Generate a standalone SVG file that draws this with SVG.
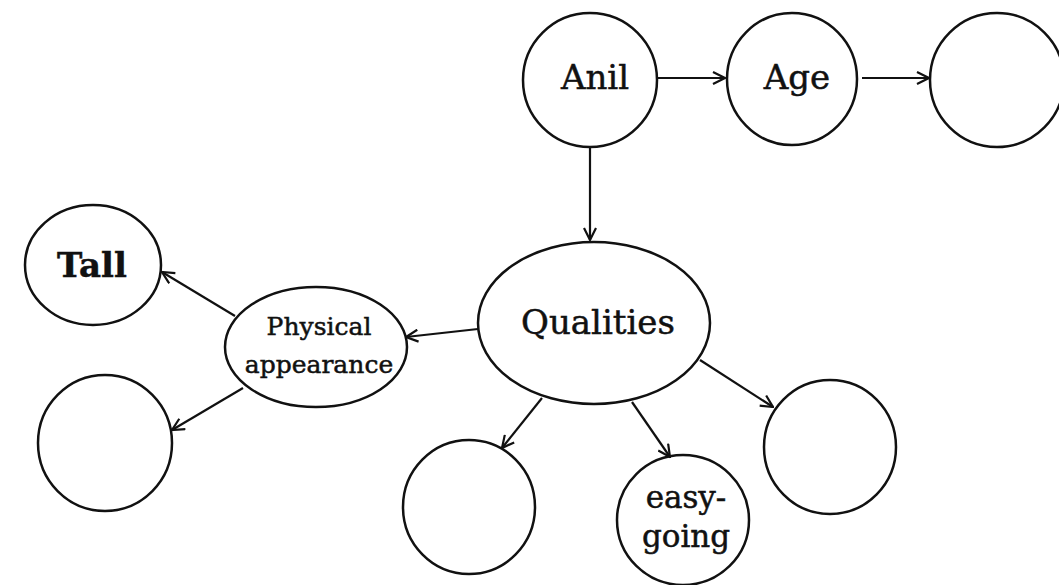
<svg xmlns="http://www.w3.org/2000/svg" width="1059" height="585" viewBox="0 0 1059 585">
<style>
.n{fill:none;stroke:#111;stroke-width:2.5}
.t{font-family:"DejaVu Serif","Liberation Serif",serif;fill:#111;stroke:#111;stroke-width:0.5;text-anchor:middle}
.c{stroke:#111;stroke-width:2.2;fill:none}
</style>
<defs>
<marker id="ah" viewBox="0 0 14 14" refX="13" refY="7" markerWidth="14" markerHeight="14" markerUnits="userSpaceOnUse" orient="auto">
<path d="M1,1 L13,7 L1,13" fill="none" stroke="#111" stroke-width="2.2"/>
</marker>
</defs>
<rect width="1059" height="585" fill="#fff"/>
<g id="connectors">
<line class="c" x1="658" y1="78" x2="725" y2="78" marker-end="url(#ah)"/>
<line class="c" x1="862" y1="78" x2="929" y2="78" marker-end="url(#ah)"/>
<line class="c" x1="590" y1="147" x2="590" y2="240" marker-end="url(#ah)"/>
<line class="c" x1="478" y1="329" x2="406" y2="337" marker-end="url(#ah)"/>
<line class="c" x1="235" y1="316" x2="162" y2="272" marker-end="url(#ah)"/>
<line class="c" x1="243" y1="388" x2="172" y2="430" marker-end="url(#ah)"/>
<line class="c" x1="542" y1="398" x2="502" y2="448" marker-end="url(#ah)"/>
<line class="c" x1="632" y1="402" x2="670" y2="457" marker-end="url(#ah)"/>
<line class="c" x1="700" y1="360" x2="773" y2="407" marker-end="url(#ah)"/>
</g>
<g id="anil"><ellipse class="n" cx="590" cy="80" rx="67" ry="67"/><text class="t" x="595" y="89" font-size="34">Anil</text></g>
<g id="age"><ellipse class="n" cx="792" cy="79" rx="65" ry="66"/><text class="t" x="797" y="89" font-size="34">Age</text></g>
<g id="age-value"><ellipse class="n" cx="997" cy="80" rx="67" ry="67"/></g>
<g id="qualities"><ellipse class="n" cx="594" cy="323" rx="116" ry="81"/><text class="t" x="598" y="334" font-size="34">Qualities</text></g>
<g id="physical"><ellipse class="n" cx="316" cy="347" rx="91" ry="60"/><text class="t" x="319" y="335" font-size="25">Physical</text><text class="t" x="319" y="373" font-size="25">appearance</text></g>
<g id="tall"><ellipse class="n" cx="93" cy="265" rx="68" ry="60"/><text class="t" x="92" y="277" font-size="34" font-weight="bold">Tall</text></g>
<g id="pa-blank"><ellipse class="n" cx="105" cy="443" rx="67" ry="68"/></g>
<g id="q-blank1"><ellipse class="n" cx="469" cy="507" rx="66" ry="67"/></g>
<g id="easygoing"><ellipse class="n" cx="683" cy="520" rx="66" ry="65"/><text class="t" x="686" y="508" font-size="31">easy-</text><text class="t" x="686" y="547" font-size="31">going</text></g>
<g id="q-blank2"><ellipse class="n" cx="830" cy="447" rx="66" ry="67"/></g>
</svg>
